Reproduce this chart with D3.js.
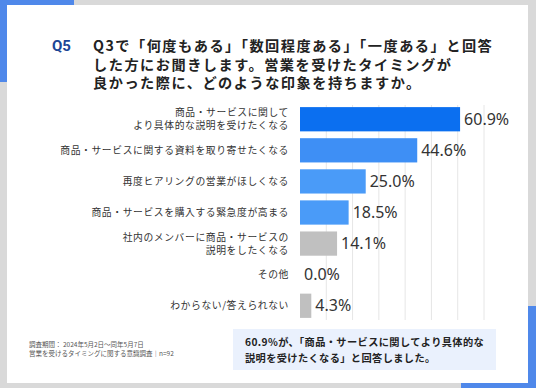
<!DOCTYPE html>
<html>
<head>
<meta charset="utf-8">
<script src="https://cdn.jsdelivr.net/npm/d3@7"></script>
<style>
body { margin: 0; background: #d9d9d9; }
svg { display: block; font-family: "Noto Sans CJK JP", "Noto Sans", sans-serif; }
</style>
</head>
<body>
<svg id="chart" width="536" height="388"></svg>
<script>
var categories = [
	["商品・サービスに関して", "より具体的な説明を受けたくなる"],
	["商品・サービスに関する資料を取り寄せたくなる"],
	["再度ヒアリングの営業がほしくなる"],
	["商品・サービスを購入する緊急度が高まる"],
	["社内のメンバーに商品・サービスの", "説明をしたくなる"],
	["その他"],
	["わからない/答えられない"]
];
var values = [60.9, 44.6, 25.0, 18.5, 14.1, 0.0, 4.3];
var barColors = ["#0b6ff0", "#3e8ff5", "#4a9bf8", "#4a9bf8", "#c0c0c0", "#c0c0c0", "#c0c0c0"];
var gridTicks = [10, 20, 30, 40, 50, 60, 70];
var titleLines = [
	"Q3で「何度もある」「数回程度ある」「一度ある」と回答",
	"した方にお聞きします。営業を受けたタイミングが",
	"良かった際に、どのような印象を持ちますか。"
];
var noteLines = ["調査期間： 2024年5月2日〜同年5月7日", "営業を受けるタイミングに関する意識調査｜n=92"];
var calloutLines = ["60.9%が、「商品・サービスに関してより具体的な", "説明を受けたくなる」と回答しました。"];

var svg = d3.select("#chart");

// frame
svg.append("rect").attr("x", 0).attr("y", 0).attr("width", 536).attr("height", 388).attr("fill", "#d9d9d9");
svg.append("rect").attr("x", 0).attr("y", 0).attr("width", 74).attr("height", 82).attr("fill", "#4f88ea");
svg.append("rect").attr("x", 461).attr("y", 306).attr("width", 75).attr("height", 82).attr("fill", "#4f88ea");
svg.append("rect").attr("x", 7).attr("y", 5).attr("width", 521).attr("height", 378).attr("fill", "#ffffff");

// title
svg.append("text").attr("x", 52).attr("y", 51)
	.attr("font-size", 15).attr("font-weight", "bold").attr("fill", "#1c4696")
	.attr("font-family", "Roboto, sans-serif").text("Q5");
svg.append("g").selectAll("text").data(titleLines).join("text")
	.attr("x", 93).attr("y", function(d, i) { return 51 + i * 18.5; })
	.attr("font-size", 14.2).attr("font-weight", "bold").attr("fill", "#222")
	.attr("letter-spacing", 1.5)
	.text(function(d) { return d; });

var x = d3.scaleLinear().domain([0, 70]).range([300, 484]);
var y = d3.scaleBand().domain(d3.range(values.length)).range([104, 321]).paddingInner(0.22).paddingOuter(0.1);

// grid
svg.append("g").selectAll("line").data(gridTicks).join("line")
	.attr("x1", function(d) { return x(d); }).attr("x2", function(d) { return x(d); })
	.attr("y1", 105).attr("y2", 320)
	.attr("stroke", "#e6e6e6").attr("stroke-width", 1);

// bars
svg.append("g").selectAll("rect").data(values).join("rect")
	.attr("x", x(0))
	.attr("y", function(d, i) { return y(i); })
	.attr("width", function(d) { return x(d) - x(0); })
	.attr("height", y.bandwidth())
	.attr("fill", function(d, i) { return barColors[i]; });

// value labels
svg.append("g").selectAll("text").data(values).join("text")
	.attr("x", function(d) { return x(d) + 4; })
	.attr("y", function(d, i) { return y(i) + y.bandwidth() / 2; })
	.attr("dy", "0.35em")
	.attr("font-size", 16).attr("fill", "#333")
	.attr("font-family", "'Noto Sans', Roboto, sans-serif")
	.text(function(d) { return d.toFixed(1) + "%"; });

// category labels
var cat = svg.append("g").selectAll("text").data(categories).join("text")
	.attr("text-anchor", "end")
	.attr("font-size", 9.8).attr("fill", "#333")
	.attr("letter-spacing", 0.6);
cat.each(function(lines, i) {
	var t = d3.select(this);
	var cy = y(i) + y.bandwidth() / 2;
	var start = cy - (lines.length - 1) * 6.5;
	lines.forEach(function(l, j) {
		t.append("tspan").attr("x", 289).attr("y", start + j * 13).attr("dy", "0.35em").text(l);
	});
});

// notes
svg.append("g").selectAll("text").data(noteLines).join("text")
	.attr("x", 29).attr("y", function(d, i) { return 347 + i * 9; })
	.attr("font-size", 6.5).attr("fill", "#555")
	.text(function(d) { return d; });

// callout
svg.append("rect").attr("x", 233).attr("y", 329).attr("width", 263).attr("height", 41).attr("fill", "#eaf1fd");
svg.append("g").selectAll("text").data(calloutLines).join("text")
	.attr("x", 245).attr("y", function(d, i) { return 346 + i * 16; })
	.attr("font-size", 10.2).attr("font-weight", "bold").attr("fill", "#222")
	.attr("letter-spacing", 0.4)
	.text(function(d) { return d; });
</script>
</body>
</html>
